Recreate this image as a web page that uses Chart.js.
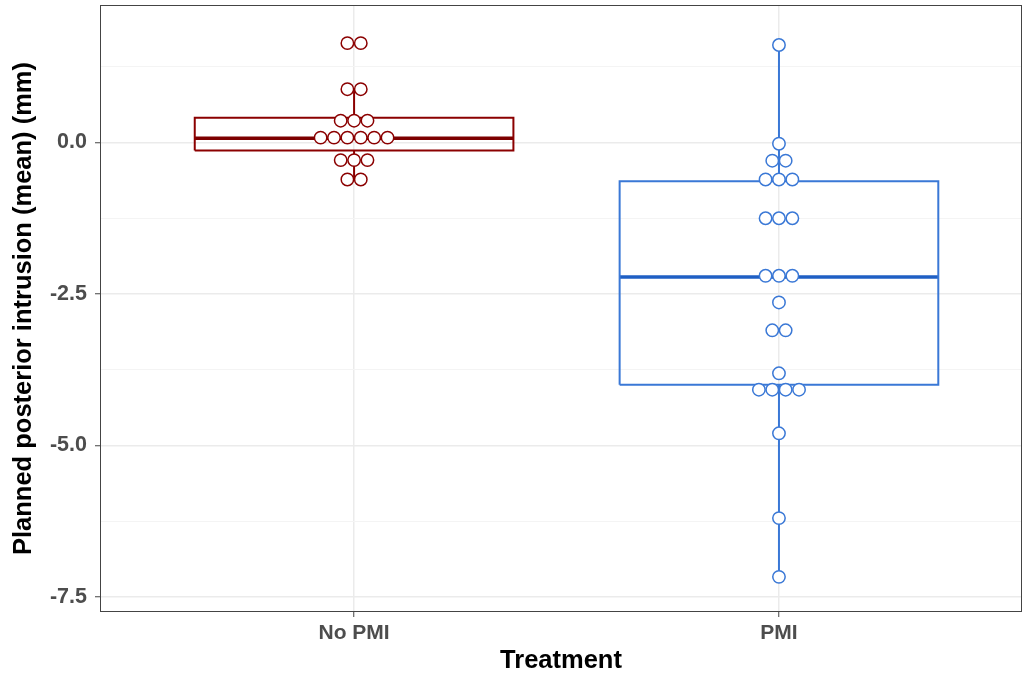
<!DOCTYPE html>
<html>
<head>
<meta charset="utf-8">
<title>Planned posterior intrusion by treatment</title>
<script src="https://cdn.jsdelivr.net/npm/chart.js@4.4.1/dist/chart.umd.min.js"></script>
<style>
  html, body { margin: 0; padding: 0; background: #ffffff; }
</style>
</head>
<body>
<canvas id="boxChart" width="1024" height="678"></canvas>
<script>
//data
const groups = ["No PMI", "PMI"];
// every dot (mm)
const noPmiValues = [1.64, 1.64, 0.88, 0.88, 0.36, 0.36, 0.36, 0.08, 0.08, 0.08, 0.08, 0.08, 0.08, -0.29, -0.29, -0.29, -0.61, -0.61];
const pmiValues = [1.61, -0.02, -0.3, -0.3, -0.61, -0.61, -0.61, -1.25, -1.25, -1.25, -2.2, -2.2, -2.2, -2.64, -3.1, -3.1, -3.81, -4.08, -4.08, -4.08, -4.08, -4.8, -6.2, -7.17];
// box statistics per group
const q1 = [-0.13, -4.0];
const medians = [0.07, -2.22];
const q3 = [0.41, -0.64];
const whiskerLow = [-0.61, -7.17];
const whiskerHigh = [0.88, 1.61];
const yTicks = [-7.5, -6.25, -5, -3.75, -2.5, -1.25, 0, 1.25];

const lineColors = ["#8b0000", "#3a78d6"];
const medianColors = ["#7d0000", "#1f5fc4"];
const boxHalf = 0.375;
const dotStep = 0.0315;

function isMajor(v) {
  return Math.abs(v / 2.5 - Math.round(v / 2.5)) < 1e-6;
}

// stack equal values side by side, like a centred dotplot
function dotPoints(values, center) {
  const counts = {};
  values.forEach((v) => {
    counts[v] = (counts[v] || 0) + 1;
  });
  const seen = {};
  return values.map((v) => {
    const i = seen[v] || 0;
    seen[v] = i + 1;
    return { x: center + (i - (counts[v] - 1) / 2) * dotStep, y: v };
  });
}

function boxOutline(i) {
  const c = i + 1;
  return [
    { x: c - boxHalf, y: q1[i] },
    { x: c + boxHalf, y: q1[i] },
    { x: c + boxHalf, y: q3[i] },
    { x: c - boxHalf, y: q3[i] },
    { x: c - boxHalf, y: q1[i] },
  ];
}

function lineSet(points, color, width) {
  return {
    data: points,
    showLine: true,
    borderColor: color,
    borderWidth: width,
    borderJoinStyle: "miter",
    pointRadius: 0,
    pointHoverRadius: 0,
    order: 2,
  };
}

function dotSet(values, i) {
  return {
    data: dotPoints(values, i + 1),
    showLine: false,
    pointRadius: 6.2,
    pointHoverRadius: 6.2,
    pointBorderWidth: 1.5,
    pointBackgroundColor: "#ffffff",
    pointBorderColor: lineColors[i],
    order: 0,
  };
}

const datasets = [];
[noPmiValues, pmiValues].forEach((values, i) => {
  const c = i + 1;
  datasets.push(dotSet(values, i));
  datasets.push(lineSet(boxOutline(i), lineColors[i], 2));
  datasets.push(lineSet([{ x: c - boxHalf, y: medians[i] }, { x: c + boxHalf, y: medians[i] }], medianColors[i], 3.5));
  datasets.push(lineSet([{ x: c, y: q3[i] }, { x: c, y: whiskerHigh[i] }], lineColors[i], 2));
  datasets.push(lineSet([{ x: c, y: q1[i] }, { x: c, y: whiskerLow[i] }], lineColors[i], 2));
});

const panelBorder = {
  id: "panelBorder",
  afterDatasetsDraw(chart) {
    const { ctx, chartArea: a } = chart;
    ctx.save();
    ctx.strokeStyle = "#444444";
    ctx.lineWidth = 1;
    ctx.strokeRect(a.left + 0.5, a.top + 0.5, a.width - 1, a.height - 1);
    ctx.restore();
  },
};

//config
const config = {
  type: "scatter",
  data: { datasets: datasets },
  options: {
    responsive: false,
    animation: false,
    layout: { autoPadding: false, padding: { top: 5, right: 2, left: 0, bottom: 0 } },
    plugins: {
      legend: { display: false },
      tooltip: { enabled: false },
    },
    scales: {
      x: {
        type: "linear",
        min: 0.402,
        max: 2.572,
        afterBuildTicks: (axis) => {
          axis.ticks = groups.map((g, i) => ({ value: i + 1 }));
        },
        afterFit: (axis) => {
          axis.height = 66;
          axis.paddingLeft = 0;
          axis.paddingRight = 0;
        },
        border: { display: false },
        grid: {
          color: "#ebebeb",
          lineWidth: 1.5,
          tickColor: "#444444",
          tickWidth: 1,
          tickLength: 5,
        },
        ticks: {
          padding: 4,
          color: "#4d4d4d",
          font: { family: "Liberation Sans", size: 21, weight: "bold" },
          callback: (v) => groups[Math.round(v) - 1],
        },
        title: {
          display: true,
          text: "Treatment",
          color: "#000000",
          padding: { top: 0, bottom: 2 },
          font: { family: "Liberation Sans", size: 25.5, weight: "bold" },
        },
      },
      y: {
        type: "linear",
        min: -7.75,
        max: 2.27,
        afterBuildTicks: (axis) => {
          axis.ticks = yTicks.map((v) => ({ value: v }));
        },
        afterFit: (axis) => {
          axis.width = 100;
          axis.paddingTop = 0;
          axis.paddingBottom = 0;
        },
        border: { display: false },
        grid: {
          color: (ctx) => (isMajor(ctx.tick.value) ? "#ebebeb" : "#f4f4f4"),
          lineWidth: (ctx) => (isMajor(ctx.tick.value) ? 1.5 : 1),
          tickColor: (ctx) => (isMajor(ctx.tick.value) ? "#444444" : "rgba(0,0,0,0)"),
          tickWidth: 1,
          tickLength: 5,
        },
        ticks: {
          padding: 8,
          color: "#4d4d4d",
          font: { family: "Liberation Sans", size: 21.5, weight: "bold" },
          callback: (v) => (isMajor(v) ? v.toFixed(1) : ""),
        },
        title: {
          display: true,
          text: "Planned posterior intrusion (mean) (mm)",
          color: "#000000",
          padding: { top: 9, bottom: 0 },
          font: { family: "Liberation Sans", size: 25.5, weight: "bold" },
        },
      },
    },
  },
  plugins: [panelBorder],
};

new Chart(document.getElementById("boxChart"), config);
</script>
</body>
</html>
